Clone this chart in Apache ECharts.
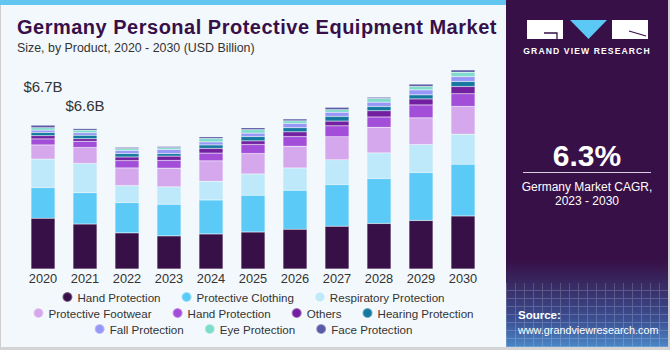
<!DOCTYPE html>
<html><head><meta charset="utf-8">
<script src="https://cdn.jsdelivr.net/npm/echarts@6/dist/echarts.min.js"></script>
<style>
html,body{margin:0;padding:0;width:670px;height:350px;overflow:hidden;background:#fff;font-family:"Liberation Sans",Arial,sans-serif;}
#left{position:absolute;left:0;top:0;width:505px;height:347px;background:#F3F8FC;border-left:1px solid #cfcfcf;border-bottom:3px solid #d4d4d4;}
#strip{position:absolute;left:0;top:0;width:506px;height:5px;background:#62C6F0;}
#chart{position:absolute;left:0;top:0;width:506px;height:350px;}
#title{position:absolute;left:17px;top:17px;font-size:20px;line-height:20px;font-weight:bold;letter-spacing:0.5px;color:#37104A;white-space:nowrap;z-index:2;}
#right{position:absolute;left:506px;top:0;width:162px;height:347px;background:linear-gradient(to bottom,#371047 0%,#371047 75%,#382a62 82%,#3b4f92 92%,#4a86c6 100%);border-right:2px solid #cfcfcf;border-bottom:3px solid #d4d4d4;color:#fff;overflow:hidden;}
#grid{position:absolute;left:0;top:283px;width:162px;height:64px;opacity:0.18;background-image:repeating-linear-gradient(90deg,#fff 0 1px,transparent 1px 9px),repeating-linear-gradient(0deg,#fff 0 1px,transparent 1px 8px);}
.t{position:absolute;white-space:nowrap;}
</style></head>
<body>
<div id="left"></div><div id="strip"></div>
<div id="chart"></div>
<div id="title">Germany Personal Protective Equipment Market</div>
<div id="right">
  <div id="grid"></div>
  <svg class="t" style="left:21px;top:20px" width="122" height="20" viewBox="0 0 122 20">
    <rect x="0" y="0" width="36" height="19" fill="#fff"/>
    <path d="M17 13 H30 V19" stroke="#371047" stroke-width="1.3" fill="none"/>
    <polygon points="43,0 80,0 61.5,19" fill="#5BC8F5"/>
    <rect x="85" y="0" width="36" height="19" fill="#fff"/>
    <path d="M102 11 L119 16" stroke="#371047" stroke-width="1.3" fill="none"/>
  </svg>
  <div class="t" style="left:0;width:162px;top:46px;text-align:center;font-size:8.6px;font-weight:bold;letter-spacing:1.1px;line-height:10px;">GRAND VIEW RESEARCH</div>
  <div class="t" style="left:0;width:162px;top:139px;text-align:center;font-size:30px;font-weight:bold;line-height:34px;">6.3%</div>
  <div class="t" style="left:17px;top:172px;width:128px;height:1px;background:#d8d0e0;"></div>
  <div class="t" style="left:0;width:162px;top:180px;text-align:center;font-size:12px;line-height:14px;">Germany Market CAGR,<br>2023 - 2030</div>
  <div class="t" style="left:12px;top:308px;font-size:11.5px;font-weight:bold;line-height:14px;">Source:</div>
  <div class="t" style="left:12px;top:323px;font-size:10.8px;line-height:14px;">www.grandviewresearch.com</div>
</div>
<script>
var years = ['2020','2021','2022','2023','2024','2025','2026','2027','2028','2029','2030'];
var handProtection = [2.36, 2.09, 1.68, 1.54, 1.63, 1.72, 1.85, 1.99, 2.12, 2.26, 2.47];
var protectiveClothing = [1.43, 1.46, 1.41, 1.47, 1.58, 1.71, 1.81, 1.94, 2.09, 2.23, 2.40];
var respiratoryProtection = [1.32, 1.36, 0.79, 0.81, 0.87, 0.99, 1.04, 1.15, 1.19, 1.30, 1.40];
var protectiveFootwear = [0.66, 0.74, 0.82, 0.87, 0.95, 0.95, 1.01, 1.07, 1.19, 1.24, 1.29];
var handProtection2 = [0.28, 0.29, 0.34, 0.36, 0.36, 0.42, 0.45, 0.51, 0.48, 0.60, 0.59];
var others = [0.15, 0.12, 0.17, 0.20, 0.22, 0.17, 0.22, 0.22, 0.29, 0.28, 0.34];
var hearingProtection = [0.15, 0.16, 0.16, 0.12, 0.16, 0.20, 0.19, 0.22, 0.20, 0.19, 0.23];
var fallProtection = [0.11, 0.12, 0.14, 0.19, 0.14, 0.16, 0.20, 0.19, 0.20, 0.23, 0.23];
var eyeProtection = [0.11, 0.11, 0.09, 0.08, 0.16, 0.16, 0.12, 0.12, 0.17, 0.16, 0.20];
var faceProtection = [0.12, 0.08, 0.06, 0.06, 0.08, 0.09, 0.09, 0.11, 0.06, 0.11, 0.11];
var totalLabels = ['$6.7B', '$6.6B', '', '', '', '', '', '', '', '', ''];

var seriesDefs = [
  ['Hand Protection', handProtection, '#371047'],
  ['Protective Clothing', protectiveClothing, '#5BCAF7'],
  ['Respiratory Protection', respiratoryProtection, '#BDE9FA'],
  ['Protective Footwear', protectiveFootwear, '#D5A7EC'],
  ['Hand Protection 2', handProtection2, '#A24ED8'],
  ['Others', others, '#72209F'],
  ['Hearing Protection', hearingProtection, '#15789F'],
  ['Fall Protection', fallProtection, '#9797F7'],
  ['Eye Protection', eyeProtection, '#7DDCCB'],
  ['Face Protection', faceProtection, '#585AA6']
];
var labelDist = [31, 16];
var series = seriesDefs.map(function (d, si) {
  var data = d[1].map(function (v, i) {
    if (si === seriesDefs.length - 1 && totalLabels[i]) {
      return {value: v, label: {show: true, position: 'top', distance: labelDist[i], formatter: totalLabels[i],
        fontSize: 15, color: '#333', fontFamily: 'Liberation Sans'}};
    }
    return v;
  });
  return {name: d[0], type: 'bar', stack: 'total', barWidth: 24, data: data,
    itemStyle: {color: d[2], borderColor: 'rgba(255,255,255,0.35)', borderWidth: 0.5},
    emphasis: {disabled: true}};
});
function legendRow(names, top) {
  return {data: names, top: top, left: 'center', icon: 'circle', itemWidth: 10, itemHeight: 10, itemGap: 20,
    textStyle: {fontSize: 11.6, color: '#333', fontFamily: 'Liberation Sans'},
    formatter: function (n) { return n === 'Hand Protection 2' ? 'Hand Protection' : n; },
    selectedMode: false};
}
var chart = echarts.init(document.getElementById('chart'), null, {renderer: 'svg'});
chart.setOption({
  animation: false,
  backgroundColor: 'transparent',
  graphic: [
    {type: 'text', left: 17, top: 42, style: {text: 'Size, by Product, 2020 - 2030 (USD Billion)', font: '12.4px "Liberation Sans"', fill: '#333'}}
  ],
  grid: {left: 22, right: 22, top: 54, bottom: 81},
  xAxis: {type: 'category', data: years, axisLine: {show: false}, axisTick: {show: false},
    axisLabel: {margin: 3, fontSize: 12.8, color: '#333', fontFamily: 'Liberation Sans'}},
  yAxis: {type: 'value', min: 0, max: 10, show: false, splitLine: {show: false}},
  legend: [
    legendRow(['Hand Protection', 'Protective Clothing', 'Respiratory Protection'], 286),
    legendRow(['Protective Footwear', 'Hand Protection 2', 'Others', 'Hearing Protection'], 302),
    legendRow(['Fall Protection', 'Eye Protection', 'Face Protection'], 318)
  ],
  series: series
});
</script>
</body></html>
